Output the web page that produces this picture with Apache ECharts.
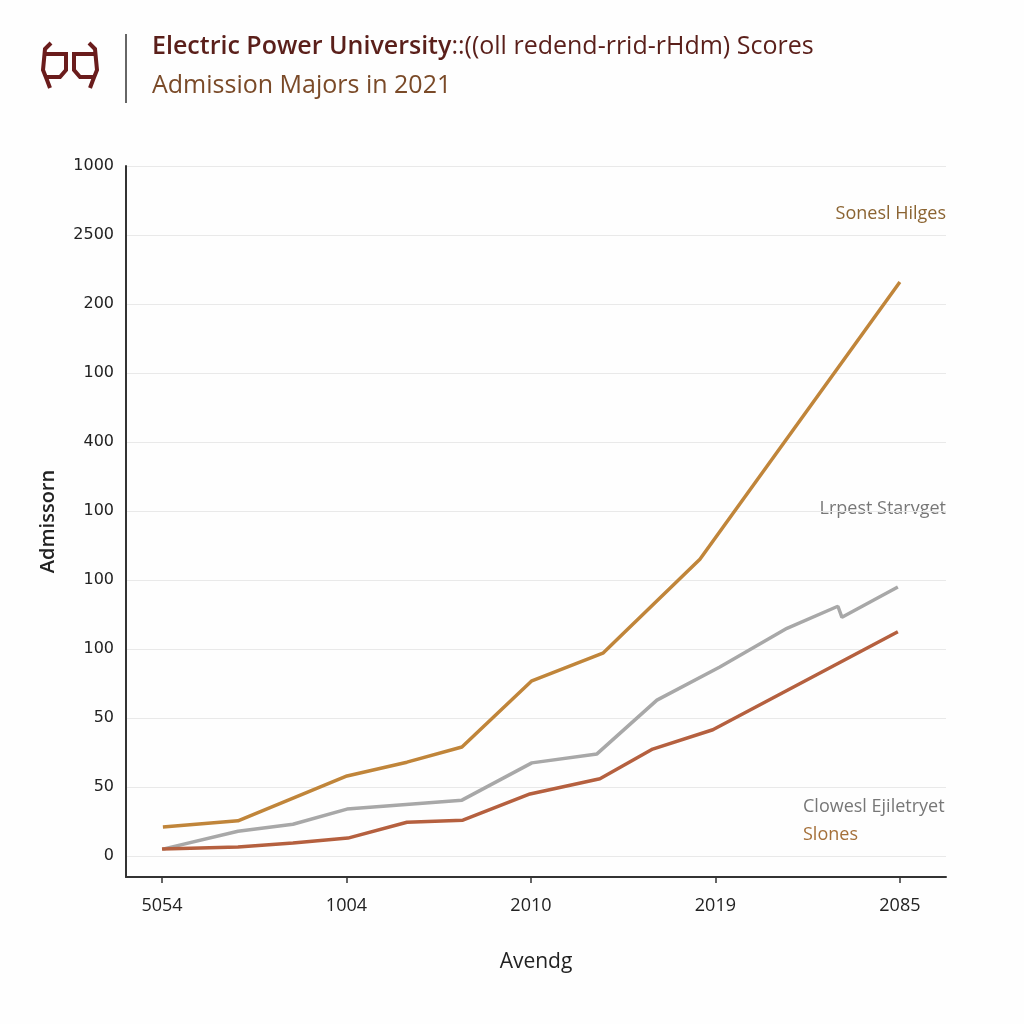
<!DOCTYPE html>
<html>
<head>
<meta charset="utf-8">
<script src="https://cdn.jsdelivr.net/npm/echarts@6/dist/echarts.min.js"></script>
<style>html,body{margin:0;padding:0;background:#fefefe;}#c{width:1024px;height:1024px;}</style>
</head>
<body>
<div id="c"></div>
<script>
// Tick labels
const xLabels = ['5054', '1004', '2010', '2019', '2085'];
const xTickPos = [0, 10, 20, 30, 40];
const yLabels = ['0', '50', '50', '100', '100', '100', '400', '100', '200', '2500', '1000'];
const yTickPos = [0, 10, 20, 30, 40, 50, 60, 70, 80, 90, 100];

// Series values as [x, y]
const highestScores = [[0.05,4.2],[4.12,5.1],[10.03,11.6],[13.28,13.6],[16.26,15.8],[20.05,25.4],[23.9,29.4],[29.16,43.0],[40.0,83.2]];
const averageScores = [[0.05,1.0],[4.12,3.6],[7.1,4.6],[10.03,6.8],[16.26,8.1],[20.05,13.5],[23.58,14.8],[26.83,22.6],[30.24,27.4],[33.88,33.0],[36.64,36.2],[36.86,34.6],[39.89,39.0]];
const lowestScores = [[0,1.0],[4.12,1.3],[7.1,1.9],[10.08,2.6],[13.28,4.9],[16.31,5.2],[19.95,9.0],[23.74,11.2],[26.6,15.5],[29.86,18.3],[39.89,32.5]];

const seriesNames = ['Sonesl Hilges', 'Lrpest Starvget', 'Clowesl Ejiletryet Slones'];

const chart = echarts.init(document.getElementById('c'));
const logoColor = '#6a1c1c';
chart.setOption({
  backgroundColor: '#fefefe',
  animation: false,
  grid: { left: 126, right: 78, top: 166, bottom: 147 },
  xAxis: {
    type: 'value', min: -1.95, max: 42.5,
    name: 'Avendg', nameLocation: 'middle', nameGap: 75,
    nameTextStyle: { fontFamily: 'Open Sans', fontSize: 21, color: '#222', fontWeight: 500 },
    axisLine: { onZero: false, lineStyle: { color: '#333', width: 2 } },
    axisTick: { show: true, length: 6, customValues: xTickPos, lineStyle: { color: '#333', width: 1.5 } },
    axisLabel: {
      customValues: xTickPos, margin: 20,
      fontFamily: 'Open Sans', fontSize: 18, color: '#222',
      formatter: v => xLabels[xTickPos.indexOf(Math.round(v))] || ''
    },
    splitLine: { show: false }
  },
  yAxis: {
    type: 'value', min: -3.04, max: 100,
    name: 'Admissorn', nameLocation: 'middle', nameGap: 68,
    nameTextStyle: { fontFamily: 'Open Sans', fontSize: 20, color: '#222', fontWeight: 600 },
    axisLine: { show: true, onZero: false, lineStyle: { color: '#333', width: 2 } },
    axisTick: { show: false, customValues: yTickPos },
    axisLabel: {
      customValues: yTickPos, margin: 12,
      fontFamily: 'DejaVu Sans', fontSize: 16, color: '#222',
      formatter: v => yLabels[yTickPos.indexOf(Math.round(v))] || ''
    },
    splitLine: { show: true, lineStyle: { color: '#e9e9e9', width: 1 } }
  },
  series: [
    { name: seriesNames[0], type: 'line', data: highestScores, symbol: 'none', lineStyle: { color: '#c0853a', width: 3.5 } },
    { name: seriesNames[1], type: 'line', data: averageScores, symbol: 'none', lineStyle: { color: '#a8a8a8', width: 3.5 } },
    { name: seriesNames[2], type: 'line', data: lowestScores, symbol: 'none', lineStyle: { color: '#b5603f', width: 3.5 } }
  ],
  graphic: [
    { type: 'line', shape: { x1: 126, y1: 34, x2: 126, y2: 103 }, style: { stroke: '#333', lineWidth: 1.5 } },
    { type: 'polyline', shape: { points: [[51,43],[45,49],[43,70],[47,80],[50,88]] }, style: { stroke: logoColor, lineWidth: 4, fill: null } },
    { type: 'polyline', shape: { points: [[46,54],[66,54],[66,70],[60,77],[46,77]] }, style: { stroke: logoColor, lineWidth: 4, fill: null } },
    { type: 'polyline', shape: { points: [[89,43],[95,49],[97,70],[93,80],[90,88]] }, style: { stroke: logoColor, lineWidth: 4, fill: null } },
    { type: 'polyline', shape: { points: [[94,54],[74,54],[74,70],[80,77],[94,77]] }, style: { stroke: logoColor, lineWidth: 4, fill: null } },
    { type: 'text', left: 152, top: 34, style: {
      text: '{b|Electric Power University}{n|::((oll redend-rrid-rHdm) Scores}',
      rich: {
        b: { fontFamily: 'Open Sans', fontSize: 25, fontWeight: 600, fill: '#5a1f1a' },
        n: { fontFamily: 'Open Sans', fontSize: 25, fontWeight: 400, fill: '#5a1f1a' }
      }
    } },
    { type: 'text', left: 152, top: 73, style: { text: 'Admission Majors in 2021', fontFamily: 'Open Sans', fontSize: 25, fill: '#7a4a28' } },
    { type: 'text', right: 78, top: 205, style: { text: seriesNames[0], fontFamily: 'Open Sans', fontSize: 18, fill: '#8b6432' } },
    { type: 'text', right: 78, top: 500, style: { text: seriesNames[1], fontFamily: 'Open Sans', fontSize: 18, fill: '#777' } },
    { type: 'text', left: 803, top: 798, style: { text: 'Clowesl Ejiletryet', fontFamily: 'Open Sans', fontSize: 18, fill: '#777' } },
    { type: 'text', left: 803, top: 826, style: { text: 'Slones', fontFamily: 'Open Sans', fontSize: 18, fill: '#a5703a' } }
  ]
});
</script>
</body>
</html>
